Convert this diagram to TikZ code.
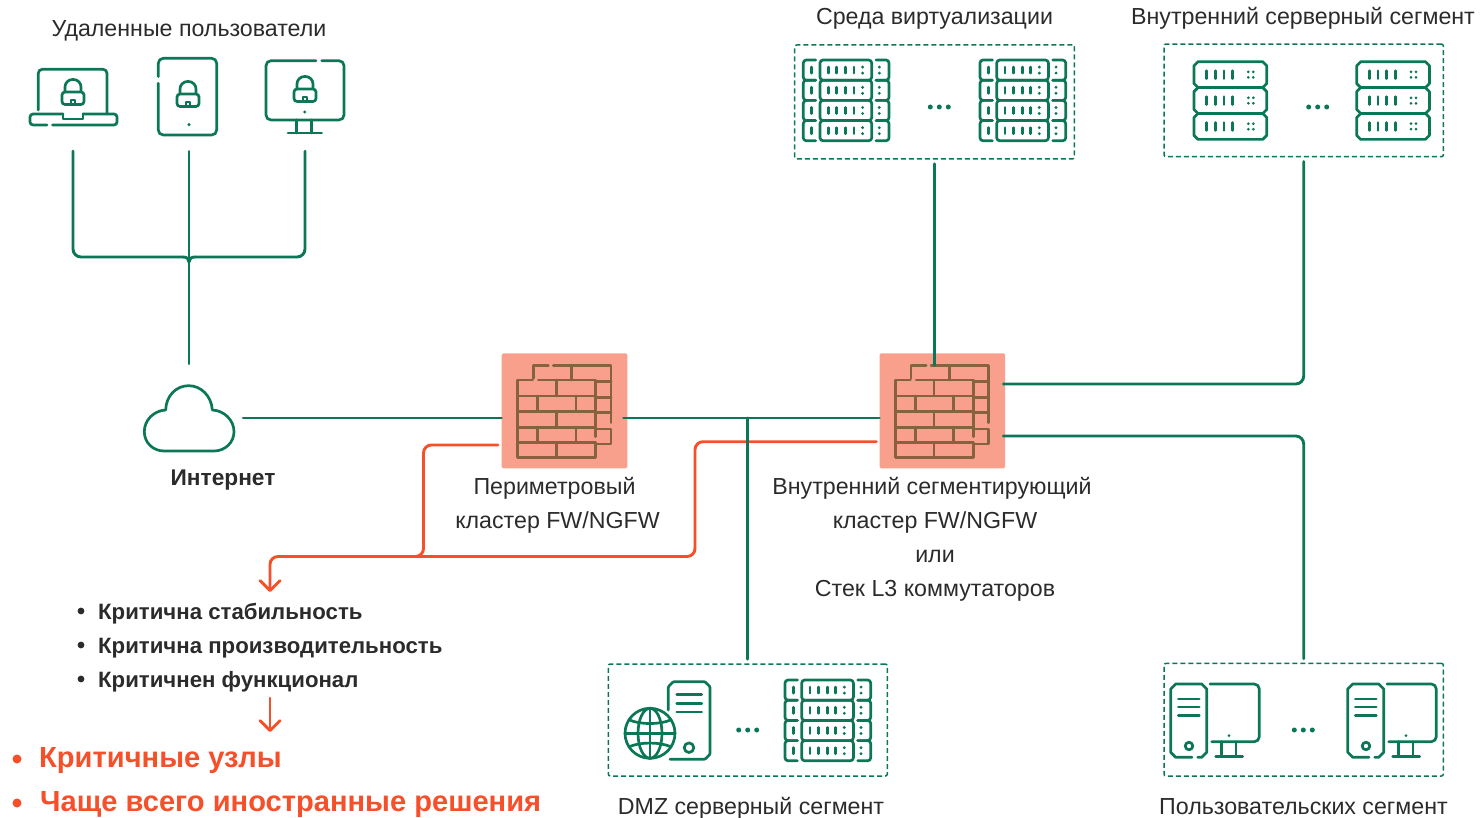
\documentclass[tikz,border=0pt]{standalone}
\usepackage{fontspec}
\setmainfont{Liberation Sans}
\usetikzlibrary{arrows.meta}
\definecolor{kgreen}{HTML}{0C7757}
\definecolor{korange}{HTML}{F5502A}
\definecolor{ksalmon}{HTML}{F9A08C}
\definecolor{kbrown}{HTML}{86623E}
\definecolor{ktext}{HTML}{2B2B2B}
\tikzset{
  link/.style={draw=kgreen,line width=2.9pt,line cap=round},
  hot/.style={draw=korange,line width=2.9pt,line cap=round},
  hotarrow/.style={hot,-{Straight Barb[length=10pt,width=20pt,line width=2.9pt,round]}},
  ico/.style={draw=kgreen,line width=2.7pt,line cap=round,line join=round},
  segbox/.style={draw=kgreen,line width=1.5pt,dash pattern=on 5pt off 3pt,rounded corners=2pt,inner sep=0pt},
  fwbox/.style={fill=ksalmon,rounded corners=1.5pt,inner sep=0pt,minimum width=125.6pt,minimum height=115pt},
  anchorbox/.style={inner sep=0pt,draw=none},
  lbl/.style={font=\fontsize{23.2}{28}\selectfont,text=ktext,inner sep=0pt,anchor=base},
  lblb/.style={lbl,font=\fontsize{22.7}{28}\selectfont\bfseries},
  item/.style={font=\fontsize{22.2}{28}\selectfont\bfseries,text=ktext,inner sep=0pt,anchor=base west},
  hotitem/.style={font=\fontsize{29.1}{34}\selectfont\bfseries,text=korange,inner sep=0pt,anchor=base west},
  lockicon/.pic={
    \draw[ico,rounded corners=7.5pt] (-8,-.5)--(-8,-12.5)--(8,-12.5)--(8,-.5);
    \draw[ico,rounded corners=3pt] (-11,0) rectangle (11,12.5);
    \draw[ico,line width=2pt] (-2,12.5)--(-2,8.5)--(2,8.5)--(2,12.5);
  },
  tdots/.pic={\foreach \q in {-9,0,9}\fill[kgreen] (\q,0) circle (2.5);},
  rack/.pic={
    \foreach \r in {0,1,2,3}{
      \begin{scope}[yshift=-20.2*\r pt]
      \draw[ico,rounded corners=3pt] (12.4,0)--(0,0)--(0,20.2)--(12.4,20.2);
      \draw[ico] (8.3,7)--(8.3,13.2);
      \draw[ico,rounded corners=3pt] (16.7,0) rectangle (68.4,20.2);
      \foreach \q in {25,33.3,42.3,50.7}\draw[ico,line width=2.5pt] (\q,7)--(\q,13.2);
      \foreach \q in {59.3,76}{\fill[kgreen] (\q,7.1) circle (1.6);\fill[kgreen] (\q,13.1) circle (1.6);}
      \draw[ico,rounded corners=3pt] (72.7,0)--(85.7,0)--(85.7,20.2)--(72.7,20.2);
      \end{scope}}
  },
  srv/.pic={
    \foreach \r in {0,1,2}{
      \begin{scope}[yshift=-25.9*\r pt]
      \draw[ico] (4,0)--(68.7,0)--(72.7,4)--(72.7,21.9)--(68.7,25.9)--(4,25.9)--(0,21.9)--(0,4)--cycle;
      \foreach \q in {12.7,21.3,30,38.7}\draw[ico,line width=2.5pt] (\q,9)--(\q,17);
      \foreach \q in {54.3,59.3}{\fill[kgreen] (\q,10.2) circle (1.5);\fill[kgreen] (\q,15.7) circle (1.5);}
      \end{scope}}
  },
  pcset/.pic={
    \draw[ico] (27,73.3)--(31,73.3)--(36,68.3)--(36,5)--(31,0)--(5,0)--(0,5)--(0,68.3)--(5,73.3)--(21.3,73.3);
    \foreach \q in {15,23,31.7}\draw[ico] (7.6,\q)--(28.6,\q);
    \draw[ico] (18.3,62) circle (3.8);
    \draw[ico,rounded corners=5pt] (39.3,0)--(88.6,0)--(88.6,57.7)--(41,57.7);
    \fill[kgreen] (58.3,51.7) circle (1.5);
    \draw[ico] (51,57.7)--(51,72.7) (65.3,57.7)--(65.3,72.7) (45,72.7)--(72,72.7);
  },
  brickwall/.pic={
    \begin{scope}[x=.33333pt,y=-.33333pt,shift={(-223.5,-212.5)},draw=kbrown,line width=2.7pt,line cap=round,line join=round]
    \draw (130,115)--(130,77)--(175,77);
    \draw (190,77)--(363,77)--(363,248);
    \draw (245,77)--(245,120);
    \draw (128,120)--(83,120)--(83,352)--(317,352)--(317,310);
    \draw (317,290)--(317,120)--(145,120);
    \foreach \q in {168,215,262,308}\draw (83,\q)--(317,\q);
    \draw (199,120)--(199,168) (143,168)--(143,215) (258,168)--(258,215)
          (199,215)--(199,262) (143,262)--(143,308) (258,262)--(258,308) (199,308)--(199,352);
    \draw (317,125)--(363,125) (317,172)--(363,172) (317,217)--(363,217);
    \draw (317,267)--(363,267)--(363,312)--(317,312);
    \end{scope}
  },
  globeicon/.pic={
    \draw[ico,fill=white] (0,0) circle (25);
    \draw[ico] (0,0) ellipse (12 and 25);
    \draw[ico] (0,-25)--(0,25) (-25,0)--(25,0);
    \draw[ico] (-21,-13.5) .. controls (-10,-8.5) and (10,-8.5) .. (21,-13.5);
    \draw[ico] (-21,13.5) .. controls (-10,8.5) and (10,8.5) .. (21,13.5);
  },
}
\begin{document}
\begin{tikzpicture}[x=1pt,y=-1pt]
\useasboundingbox (0,0) rectangle (1484,818);

% ---- anchors for the user devices and cloud
\node[anchorbox,minimum width=87pt,minimum height=75pt] (lap) at (73,97) {};
\node[anchorbox,minimum width=58pt,minimum height=77pt] (tab) at (189,96.7) {};
\node[anchorbox,minimum width=78pt,minimum height=72pt] (mon) at (305,97) {};
\node[anchorbox,minimum width=90pt,minimum height=66pt] (cloud) at (189,418) {};

% ---- firewalls
\node[fwbox] (fwa) at (564.5,410.8) {};
\node[fwbox] (fwb) at (942.3,410.8) {};
\pic at (fwa) {brickwall};
\pic at (fwb) {brickwall};

% ---- segment boxes
\node[segbox,minimum width=279.6pt,minimum height=114pt] (boxvirt) at (934.5,102) {};
\node[segbox,minimum width=279.3pt,minimum height=112.7pt] (boxint) at (1303.7,100.4) {};
\node[segbox,minimum width=279pt,minimum height=112pt] (boxdmz) at (747.8,720) {};
\node[segbox,minimum width=279.3pt,minimum height=112.7pt] (boxusr) at (1303.7,719.7) {};

% ---- laptop
\draw[ico,rounded corners=4pt] (38.3,110)--(38.3,69.3)--(107,69.3)--(107,114);
\draw[ico,rounded corners=3pt] (47,125)--(30,125)--(30,114)--(63,114);
\draw[ico] (63,114)--(63,119)--(83,119)--(83,114);
\draw[ico,rounded corners=3pt] (83,114)--(117,114)--(117,125)--(52.5,125);
\pic at (73,92) {lockicon};
% ---- tablet
\draw[ico,rounded corners=5pt] (158.3,76.7)--(158.3,58.3)--(216.7,58.3)--(216.7,135)--(158.3,135)--(158.3,83.3);
\fill[kgreen] (189,124.7) circle (1.7);
\pic at (188,94) {lockicon};
% ---- monitor
\draw[ico,rounded corners=5pt] (316,60.7)--(266,60.7)--(266,120)--(344,120)--(344,60.7)--(321.7,60.7);
\fill[kgreen] (304.7,112) circle (1.7);
\draw[ico] (296.7,120)--(296.7,133) (311.7,120)--(311.7,133) (288,133)--(321.7,133);
\pic at (305,89) {lockicon};

% ---- cloud
\draw[ico] (164,451) .. controls (153,451) and (144.3,442.5) .. (144.3,431.7)
  .. controls (144.3,420) and (154,410.5) .. (165.7,410)
  .. controls (166,396) and (176,385.7) .. (188.7,385.7)
  .. controls (201,385.7) and (211.5,396) .. (212.3,410)
  .. controls (224,410.5) and (234,420) .. (234,431.7)
  .. controls (234,442.5) and (225,451) .. (214,451) -- cycle;

% ---- segment contents
\pic at (803.3,60) {rack};
\pic at (980,60) {rack};
\pic at (939.3,107) {tdots};
\pic at (1194,61.7) {srv};
\pic at (1356.7,61.7) {srv};
\pic at (1317.7,107) {tdots};
% web server
\draw[ico,rounded corners=1pt] (668.3,710)--(668.3,686.7)--(673.3,681.7)--(705,681.7)--(710,686.7)--(710,754.3)--(705,759.3)--(670,759.3);
\foreach \q in {694.3,703.3,712}\draw[ico] (676.7,\q)--(701.7,\q);
\draw[ico] (689,747.7) circle (4.8);
\pic at (650,733.3) {globeicon};
\pic at (747.7,730) {tdots};
\pic at (785,680) {rack};
\pic at (1170.7,684) {pcset};
\pic at (1347.7,684) {pcset};
\pic at (1303.3,730) {tdots};

% ---- orange connectors
\coordinate (busa) at (423.5,556.5);
\coordinate (busb) at (695,556.5);
\coordinate (busc) at (270,556.5);
\coordinate (tipa) at (270,592);
\coordinate (taila) at (270,698);
\coordinate (tipb) at (270,732);
\draw[hot,rounded corners=8pt] ([xshift=-3.5pt,yshift=-34.2pt]fwa.west) -| (busa) -- ++(-20,0);
\draw[hotarrow,rounded corners=8pt] ([xshift=-3pt,yshift=-30.9pt]fwb.west) -| (busb) -- (busc) -- (tipa);
\draw[hotarrow] (taila) -- (tipb);

% ---- green connectors
\coordinate (hub) at (189,257);
\draw[link,rounded corners=8pt] ([yshift=-16.5pt]lap.south) |- ([xshift=-6pt]hub);
\draw[link,rounded corners=8pt] ([yshift=-18pt]mon.south) |- ([xshift=6pt]hub);
\draw[link] ([yshift=-16pt]tab.south) -- ([yshift=21pt]cloud.north);
\draw[link] ([xshift=-6pt]hub) .. controls ([xshift=-2pt]hub) and ([yshift=-2pt]hub) .. ([yshift=-5pt]hub);
\draw[link] ([xshift=6pt]hub) .. controls ([xshift=2pt]hub) and ([yshift=-2pt]hub) .. ([yshift=-5pt]hub);
\draw[link,shorten <=9pt] (cloud.east) -- (cloud.east -| fwa.west);
\coordinate (midlink) at ([yshift=-7.2pt]fwa.east);
\draw[link] ([xshift=-4pt]midlink) -- (midlink -| fwb.west);
\draw[link] (midlink -| boxdmz.north) -- ([yshift=4pt]boxdmz.north);
\draw[link,shorten <=4pt] (boxvirt.south) -- ([yshift=-12pt]boxvirt.south |- fwb.north);
\draw[link,rounded corners=8pt] ([xshift=-2pt,yshift=26.8pt]fwb.east) -| ([yshift=-4pt]boxint.south);
\draw[link,rounded corners=8pt] ([xshift=-2pt,yshift=-25.2pt]fwb.east) -| ([yshift=4pt]boxusr.north);

% ---- labels
\node[lbl] (tusers) at (189,37) {Удаленные пользователи};
\node[lbl] (tvirt) at (934.5,25) {Среда виртуализации};
\node[lbl] (tint) at (1303,25) {Внутренний серверный сегмент};
\node[lblb] (tnet) at (223,485) {Интернет};
\node[lbl] (tfa1) at (554.5,494) {Периметровый};
\node[lbl] (tfa2) at (557.5,528) {кластер FW/NGFW};
\node[lbl] (tfb1) at (932,494) {Внутренний сегментирующий};
\node[lbl] (tfb2) at (935,528) {кластер FW/NGFW};
\node[lbl] (tfb3) at (935,562) {или};
\node[lbl] (tfb4) at (935,596) {Стек L3 коммутаторов};
\node[lbl] (tdmz) at (751,814) {DMZ серверный сегмент};
\node[lbl] (tusr) at (1303.5,814) {Пользовательских сегмент};

% ---- lists
\foreach \yy in {611,645,679}\fill[ktext] (81,\yy) circle (3.4);
\node[item] (i1) at (98,619) {Критична стабильность};
\node[item] (i2) at (98,653) {Критична производительность};
\node[item] (i3) at (98,687) {Критичнен функционал};
\foreach \yy in {759,803}\fill[korange] (17,\yy) circle (4.5);
\node[hotitem] (h1) at (39,767) {Критичные узлы};
\node[hotitem] (h2) at (40,811) {Чаще всего иностранные решения};
\end{tikzpicture}
\end{document}
